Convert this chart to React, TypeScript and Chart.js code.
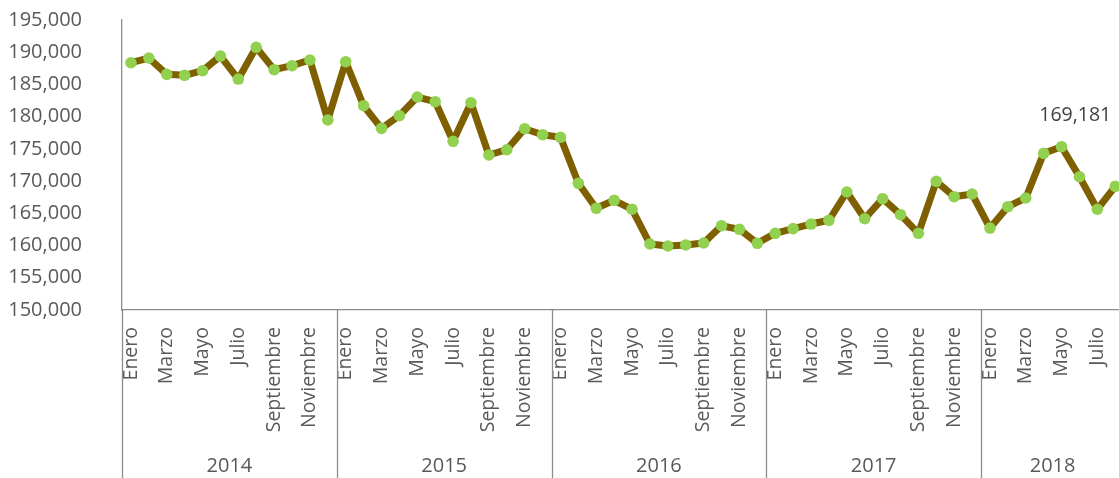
import React, { useEffect, useRef } from 'react';
import { Chart, registerables } from 'chart.js';
Chart.register(...registerables);

const MONTHS = ['Enero', 'Febrero', 'Marzo', 'Abril', 'Mayo', 'Junio', 'Julio', 'Agosto', 'Septiembre', 'Octubre', 'Noviembre', 'Diciembre'];
const YEARS = ['2014', '2015', '2016', '2017', '2018'];
const MONTH_COUNTS = [12, 12, 12, 12, 8];
const VALUES = [
  188370, 189100, 186570, 186420, 187130, 189410, 185840, 190760, 187290, 187910, 188790, 179480,
  188530, 181700, 178190, 180150, 183050, 182320, 176180, 182170, 174050, 174870, 178130, 177200,
  176800, 169660, 165780, 167020, 165630, 160240, 159930, 160090, 160400, 163080, 162520, 160350,
  161900, 162620, 163340, 163920, 168310, 164170, 167270, 164790, 161900, 169970, 167580, 168000,
  162720, 166030, 167380, 174310, 175340, 170680, 165630, 169181,
];
const LABELED_TEXT = '169,181';
const Y_MIN = 150000;
const Y_MAX = 195000;
const Y_STEP = 5000;

const CATEGORIES: string[] = [];
YEARS.forEach((y, i) => {
  for (let m = 0; m < MONTH_COUNTS[i]; m++) CATEGORIES.push(MONTHS[m]);
});

const FONT = '"Open Sans", "Segoe UI", sans-serif';
const AXIS_GRAY = '#8c8c8c';
const TEXT_GRAY = '#595959';

const yearPlugin = {
  id: 'yearGroups',
  afterDraw(chart: any) {
    const ctx = chart.ctx;
    const x = chart.scales.x;
    const area = chart.chartArea;
    const half = (x.getPixelForValue(1) - x.getPixelForValue(0)) / 2;
    ctx.save();
    ctx.strokeStyle = AXIS_GRAY;
    ctx.lineWidth = 1.3;
    let start = 0;
    YEARS.forEach((y, i) => {
      const x0 = x.getPixelForValue(start) - half;
      const x1 = x.getPixelForValue(start + MONTH_COUNTS[i] - 1) + half;
      ctx.beginPath();
      ctx.moveTo(Math.round(x0) + 0.5, area.bottom);
      ctx.lineTo(Math.round(x0) + 0.5, chart.height);
      ctx.stroke();
      ctx.fillStyle = TEXT_GRAY;
      ctx.font = `20px ${FONT}`;
      ctx.textAlign = 'center';
      ctx.textBaseline = 'middle';
      ctx.fillText(y, (x0 + x1) / 2, 466);
      start += MONTH_COUNTS[i];
    });
    // data label for last point
    const meta = chart.getDatasetMeta(0);
    const last = meta.data[meta.data.length - 1];
    ctx.fillStyle = '#404040';
    ctx.font = `19.5px ${FONT}`;
    ctx.textAlign = 'center';
    ctx.textBaseline = 'middle';
    ctx.fillText(LABELED_TEXT, last.x - 40, last.y - 71);
    ctx.restore();
  },
};

export default function App() {
  const ref = useRef<HTMLCanvasElement | null>(null);
  useEffect(() => {
    document.body.style.margin = '0';
    const chart = new Chart(ref.current as HTMLCanvasElement, {
      type: 'line',
      data: {
        labels: CATEGORIES,
        datasets: [
          {
            data: VALUES,
            borderColor: '#7F6000',
            borderWidth: 7,
            borderJoinStyle: 'round',
            borderCapStyle: 'round',
            pointBackgroundColor: '#92D050',
            pointBorderWidth: 0,
            pointRadius: 5.8,
            pointHoverRadius: 5.8,
            tension: 0,
            clip: false as any,
          },
        ],
      },
      options: {
        animation: false,
        responsive: false,
        layout: { padding: { top: 20, left: 0, right: 3, bottom: 0 } },
        plugins: { legend: { display: false }, tooltip: { enabled: false } },
        scales: {
          x: {
            type: 'category',
            offset: true,
            grid: { display: false, drawTicks: false },
            border: { display: true, color: AXIS_GRAY, width: 1.3 },
            ticks: {
              autoSkip: false,
              maxRotation: 90,
              minRotation: 90,
              padding: 17,
              color: TEXT_GRAY,
              font: { family: FONT, size: 19.5 },
              callback: (_v: any, i: number) => (i % 2 === 0 ? CATEGORIES[i] : ''),
            },
            afterFit: (s: any) => {
              s.height = 168;
              s.paddingLeft = 0;
              s.paddingRight = 0;
            },
          },
          y: {
            min: Y_MIN,
            max: Y_MAX,
            grid: { display: false, drawTicks: false },
            border: { display: true, color: AXIS_GRAY, width: 1.3 },
            ticks: {
              stepSize: Y_STEP,
              padding: 40,
              color: TEXT_GRAY,
              font: { family: FONT, size: 20 },
              callback: (v: any) => Number(v).toLocaleString('en-US'),
            },
            afterFit: (s: any) => {
              s.width = 122;
              s.paddingTop = 0;
              s.paddingBottom = 0;
            },
          },
        },
      },
      plugins: [yearPlugin],
    });
    return () => chart.destroy();
  }, []);
  return (
    <div style={{ width: 1119, height: 478, overflow: 'hidden', position: 'relative' }}>
      <canvas ref={ref} width={1130} height={478} style={{ display: 'block', width: 1130, height: 478 }} />
    </div>
  );
}
